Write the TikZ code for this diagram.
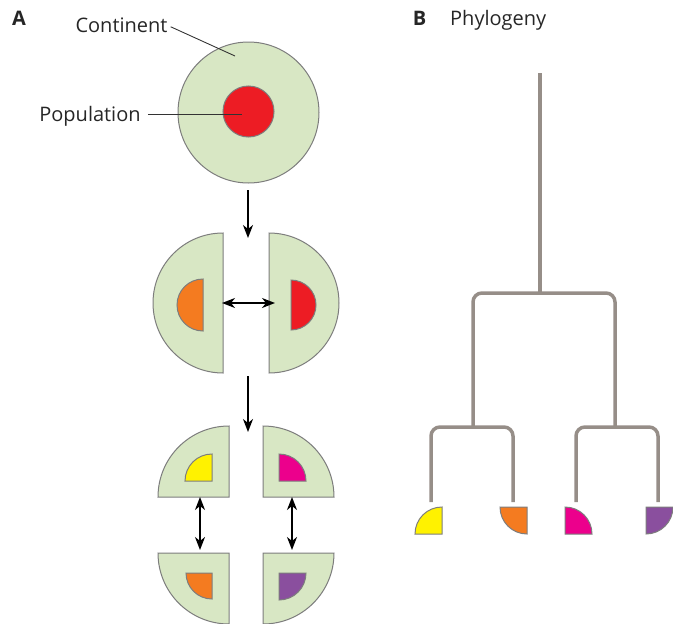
\documentclass[tikz,border=0pt]{standalone}
\usepackage{fontspec}
\setmainfont{Open Sans}
\usepackage{tikz}
\usetikzlibrary{arrows.meta}
\definecolor{landgreen}{HTML}{D8E7C4}
\definecolor{edgegray}{HTML}{7D7D7D}
\definecolor{popred}{HTML}{ED1C24}
\definecolor{poporange}{HTML}{F47B20}
\definecolor{popyellow}{HTML}{FFF200}
\definecolor{popmagenta}{HTML}{EC008C}
\definecolor{poppurple}{HTML}{8A4F9E}
\definecolor{treegray}{HTML}{968E88}

\begin{document}
\begin{tikzpicture}[x=1pt,y=-1pt,
  land/.style={draw=edgegray, fill=landgreen, line width=1pt},
  pop/.style={draw=edgegray, line width=1pt, fill=#1},
  lbl/.style={font=\fontsize{20}{24}\selectfont, text=black!85, inner sep=0pt},
  tag/.style={font=\fontsize{20}{24}\selectfont\bfseries, text=black!85, inner sep=0pt},
  move/.style={line width=1.6pt, -{Stealth[length=13pt,width=10pt,inset=4pt]}},
  swap/.style={line width=1.6pt, {Stealth[length=13pt,width=10pt,inset=4pt]}-{Stealth[length=13pt,width=10pt,inset=4pt]}},
  tree/.style={treegray, line width=3.5pt, rounded corners=9pt}]
  \useasboundingbox (0,0) rectangle (673,624);

  % A: one continent, then split in halves and quarters
  \node[tag] (tagA) at (19,18) {A};
  \draw[land] (248.5,112.5) circle (70.5);
  \draw[pop=popred] (248.5,111.5) circle (25.5);
  \node[lbl, anchor=base] (cont) at (121.5,32) {Continent};
  \node[lbl, anchor=base] (popl) at (90,121) {Population};
  \coordinate (contpt) at (235,56);
  \coordinate (poppt) at (242,114);
  \draw[line width=0.9pt, black!80] ([xshift=3pt,yshift=-2pt]cont.east) -- (contpt);
  \draw[line width=0.9pt, black!80] ([xshift=7pt]popl.east |- poppt) -- (poppt);

  \draw[land] (223,233) arc[start angle=-90, end angle=-270, radius=70] -- cycle;
  \draw[pop=poporange] (203,279) arc[start angle=-90, end angle=-270, radius=26] -- cycle;
  \draw[land] (269,233) arc[start angle=-90, end angle=90, radius=70] -- cycle;
  \draw[pop=popred] (291,280) arc[start angle=-90, end angle=90, radius=25] -- cycle;

  \draw[land] (229,497) -- ++(0,-71) arc[start angle=-90, end angle=-180, radius=71] -- cycle;
  \draw[pop=popyellow] (212,481) -- ++(0,-27) arc[start angle=-90, end angle=-180, radius=27] -- cycle;
  \draw[land] (263,497) -- ++(0,-71) arc[start angle=-90, end angle=0, radius=71] -- cycle;
  \draw[pop=popmagenta] (279,481) -- ++(0,-27) arc[start angle=-90, end angle=0, radius=27] -- cycle;
  \draw[land] (229,553) -- ++(-71,0) arc[start angle=180, end angle=90, radius=71] -- cycle;
  \draw[pop=poporange] (212,573) -- ++(-26,0) arc[start angle=180, end angle=90, radius=26] -- cycle;
  \draw[land] (263,553) -- ++(71,0) arc[start angle=0, end angle=90, radius=71] -- cycle;
  \draw[pop=poppurple] (279,573) -- ++(27,0) arc[start angle=0, end angle=90, radius=27] -- cycle;

  \coordinate (s1) at (248,190);  \coordinate (e1) at (248,238);
  \coordinate (s2) at (248,376);  \coordinate (e2) at (248,432);
  \draw[move] (s1) -- (e1);
  \draw[move] (s2) -- (e2);
  \coordinate (hl) at (222,303);  \coordinate (hr) at (275,303);
  \draw[swap] (hl) -- (hr);
  \coordinate (vl1) at (200,497); \coordinate (vl2) at (200,550);
  \coordinate (vr1) at (292,497); \coordinate (vr2) at (292,550);
  \draw[swap] (vl1) -- (vl2);
  \draw[swap] (vr1) -- (vr2);

  % B: the tree
  \node[tag] (tagB) at (419.5,18) {B};
  \node[lbl, anchor=base west] (phyl) at (450,25) {Phylogeny};
  \coordinate (root) at (540,73);
  \coordinate (mid) at (540,293);
  \coordinate (ab) at (473,427);
  \coordinate (cd) at (615,427);
  \coordinate (la) at (431,502);
  \coordinate (lb) at (513,502);
  \coordinate (lc) at (576,502);
  \coordinate (ld) at (658,502);
  \draw[tree] (root) -- (mid);
  \draw[tree] (ab) |- (mid) -| (cd);
  \draw[tree] (la) |- (ab) -| (lb);
  \draw[tree] (lc) |- (cd) -| (ld);
  \draw[pop=popyellow] (442,534) -- ++(0,-27) arc[start angle=-90, end angle=-180, radius=27] -- cycle;
  \draw[pop=poporange] (527,507) -- ++(-27,0) arc[start angle=180, end angle=90, radius=27] -- cycle;
  \draw[pop=popmagenta] (565,534) -- ++(0,-27) arc[start angle=-90, end angle=0, radius=27] -- cycle;
  \draw[pop=poppurple] (646,507) -- ++(27,0) arc[start angle=0, end angle=90, radius=27] -- cycle;
\end{tikzpicture}
\end{document}
